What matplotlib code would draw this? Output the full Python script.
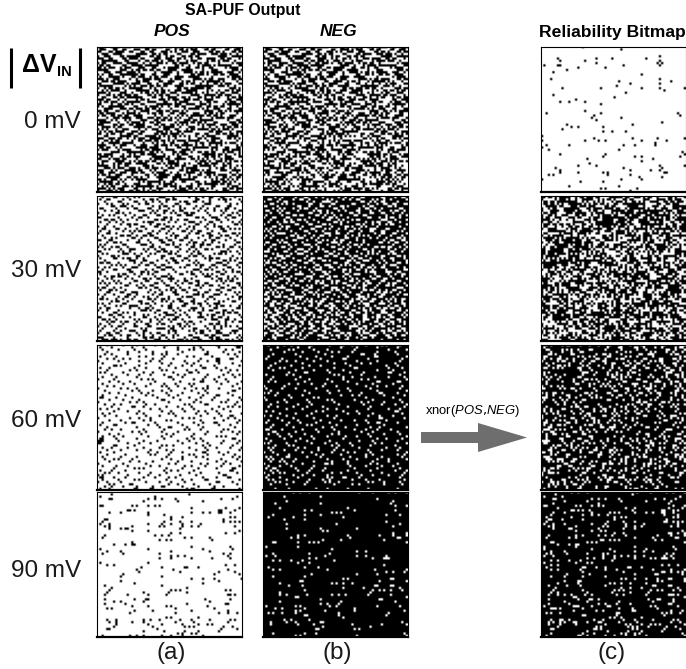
#SA-PUF output bitmaps (64x64 cells per panel), 1 = dark cell
#Sparse panels were read cell by cell from the picture, hex rows are estimated by eye

import numpy as np
import matplotlib
matplotlib.use("Agg")
import matplotlib.pyplot as plt

plt.rcParams['font.family'] = ['Liberation Sans', 'DejaVu Sans']
plt.rcParams['mathtext.fontset'] = 'custom'
plt.rcParams['mathtext.it'] = 'Liberation Sans:italic'

voltages = ["0 mV", "30 mV", "60 mV", "90 mV"]
columnLabels = ["(a)", "(b)", "(c)"]

pos0Rows = ["E3C61F38B4D29E67", "7198E6C32D71B0CE", "C6F3198EA7386D1B", "39E07CD6186F3BA4", "9C37E1B2C6D8079F", "E61BD8739A4CF362", "3F8C26E9D170B5C8", "B1E7C93A6F2D8417",
            "6C19F7E0348BD7E3", "D72E38C5F19A60BC", "F8396DB1E7C2381D", "1CE7A04F93D6BE72", "A63FD8C7106E9B3C", "47D1B96E3CF8205E", "E9C24F70B83D671B", "3B786E19C5A2FD04",
            "C1F5E3278D649AE3", "7E0A9DB63C1FE748", "96D3F1481B7EC03A", "2BC87E6D39F0A4D6", "F43916ACE7D28B1C", "8D6EC35B1079F6E2", "31B7F0C9E68D2C5B", "EC485A1D73B9E067",
            "5B97E3C62F04D8B9", "C26D183FB9E7417E", "A7F0C5E9361CDB24", "1E3B76D082FA9C63", "D8C49E3B7501E6AF", "6F17A2D8CE396B04", "B36CF049157EDA38", "09DE73B6A8C42F71",
            "F28A1C6D93B7E046", "7C45E9B02F6D183B", "E1B3786CD50AF39C", "3D60FB17C8E2496D", "A89C24E7316FB5D0", "56F1D83A9BC06E27", "CB27306EF4198DB5", "183EC7D56A92F07C",
            "E764B9F1208D3C6A", "9AC1376D5EF8B204", "27DF08A4C3167EB9", "F1389C6EB7D24A05", "6CA07DE2193FB8C6", "B85E16F3C7A029DE", "03C7F9A86E4DB172", "DE129BC45703F68A",
            "7A36E0FD18C9B4E3", "C5D8417B3E6A92F0", "38F2B6C9D0174EAD", "A16E7C35F28DB960", "F94C0E82B637D1A5", "1D73A6E9C5F04B28", "E28FB1460D7AC39E", "6739D8BC91E5F024",
            "B4E1065F3A8CD79B", "0FC6D23E78B149A6", "D3A97C186FE02B54", "7E502BF4C6193DA8", "96C8E317A04DFB62", "2B1D7FA6E9C8305C", "F570C9382ED6A1B7", "8EB36AD15F2709C4"]
pos30Rows = ["2184A01C40926308", "4C1209A3601845A2", "1060C4920B324081", "8A1426083181C024", "0339009648120C60", "6084C3110A2490C8", "124038A64C091283", "80D20144A3608114",
             "25088C3019C04262", "C0413206801A3898", "1B24406C93010C41", "44900B8120E46212", "0826C1340218900D", "9102186348A11640", "30C8440C9120832A", "4412B091064C2180",
             "8C8103224098C41A", "20364D80B10262C4", "1281906223084C21", "C60422198C413088", "09A0610C40B22406", "50181C834926C108", "A2C4019030640D32", "14238A4C0891A041",
             "C0520436912803A4", "281C9141A04C1682", "8340620C18B24010", "41964808C3016C25", "10038C22649041A8", "6C40918130280E43", "02A8264C01963184", "9411C0338A044862",
             "2186048C4039A110", "C8031A6021440C96", "405892810C62A301", "1364204E8011C848", "8A090D31C2402654", "2140C60893180AB0", "54A2106424C98106", "080C4983101A6442",
             "B1203460C8840319", "46880112A6304C60", "0C31C2486109820A", "91064098303A1C84", "204C8A2105C26013", "6891034D18209042", "02C4308A4C610518", "A4181640832C9C01",
             "10A3C10986044B22", "4C02268190721806", "88401D3048A26190", "21948046220C0D6C", "06608A13C904B102", "C1120C44308E2641", "3480A129640138C8", "0B2C511082C40493",
             "4410862C19206C80", "9260C3014A8112A4", "2088143CC4309203", "41238C0160A64C1C", "8CC0493120160E28", "1626288C50C1B1C2", "E1040D9242386C05", "3BA6C4711D4C2ED2"]
neg30WhiteRows = ["0482312049180C26", "3104C80A1260A481", "8260123C80194C10", "18A40C4301822663", "C2018864340981A0", "0944B1019026480C", "628102C8486110B2", "11300C4A03218C44",
                  "4086C19120CC0209", "8C300826840312C8", "1049A20C51600E21", "226C1081A404B188", "81030C34206892C1", "0CB041C20D142008", "5120861448A1C302", "A408312083118C14",
                  "13C2081CC4204C61", "480D2264092A1084", "9021C4808C41221A", "02861129304804C6", "616040C3A2081931", "8C12390844D20042", "10C8048312206D89", "2411C8A0640C8122",
                  "E0623119084290C4", "0A09C4064C12A160", "C3B0101982C40C1A", "14C426C0313108C2", "A1018C34068E2441", "6C4832018C601219", "8326019C2A1884E0", "10C8A24640934C12",
                  "4C1209C11A648203", "2A6084341205C398", "9103C2180CE04126", "44481C6592013084", "81B2240C0948C641", "3610C9A2C3260C18", "C8240162984B1162", "0C8B1418068C2341",
                  "A3C04C2391A8401C", "14383082C40D9262", "6A844D1C22103688", "C90C22A118624C13", "2763C0884C3A1840", "E01A9432016CC2A6", "4C882D60D3118924", "9B3144C60A2E1C86",
                  "186E0C9B14864132", "C523A1068C2936C8", "A64C30E2418D0C19", "33890C4CB2648E42", "CE249A12C30C3185", "591662C8290CB4C2", "8C93241A864E2318", "E640C9B3112864CA",
                  "3A1C4C26C8A11942", "C9B2863103CC6C18", "A2462C9C82348146", "1D8C4331C0690D9A", "C6328C14362E2461", "8B8490E2CA11C326", "0C0D2038444C8180", "2420C0830C100812"]
pos60Rows = ["0810404200080C0F", "4201080410240406", "2040840010A20090", "0804208204008102", "1204008A10018048", "4080240401202004", "0912008840040C30", "8040211002088C01",
             "2008040881200410", "01A0200104441002", "4400841020030880", "0802400A01100224", "5010088040C80040", "0204210412008112", "2080400184010408", "8100128040221080",
             "0442004008060841", "2010810420A00204", "0900040A10408010", "8024400102128402", "1001208880410018", "0440120204088040", "2008048110020C10", "6081002040841002",
             "0410200C08102041", "8002480100240284", "1120044002818008", "0201880210400452", "4840011004202100", "0104200882090820", "2400480140108401", "1080041020040230",
             "8002210004A01048", "0420090280040102", "2009804010221804", "4180022004080420", "0800401181020008", "1220080402840140", "8001240810008212", "0440100240210004",
             "2110020880400A80", "6080400401240018", "E040082010820102", "C004210004108204", "0180800A40024010", "2204081000810821", "0820410240108002", "4100022084030440",
             "0808014100A08108", "2020400204120012", "1141000884008204", "0402208010400881", "8010040120048120", "2084011002410202", "0100A80204080818", "4208000490200030",
             "1440210200840404", "A004021008100180", "6108084120020860", "2040A00204418002", "8820041082000C10", "0503000110204004", "1210408C04081100", "4400C18001603002"]
neg60WhiteRows = ["2048040411040A08", "0201080020402010", "1014020800800101", "0040408241002020", "0802001000184010", "2000810204006001", "4080104018020004", "0122020800402008",
                  "0400400108110020", "1008084002000210", "2140400100C00104", "0802020810002040", "0010300402080182", "4024000140100008", "0800800011004102", "1002080810120001",
                  "2400200204003018", "0011041000408040", "8040002080042204", "4082010004010008", "1000200842002001", "A200080400101810", "0410400021200402", "8008028000040040",
                  "4040100A00808008", "0220080100120404", "1001040040080821", "2204102004010002", "0020400880020108", "4800012010400030", "0102040004208004", "9020100880021040",
                  "0204020100001802", "2081004020840200", "4010810400023010", "0820140080400400", "1004002208011001", "6080410100842080", "0C02008040108010", "2210200240020408",
                  "0108040808410001", "4040820010002204", "1002100400208010", "A020041082004801", "0414000241010020", "2801208080200208", "1042008110020810", "8800440204810001",
                  "0210012020048012", "5030104002040804", "2882000810402101", "1144020204008100", "8020401A04012010", "2108020002040840", "4C02041000802008", "1201082004010021",
                  "8940100220400802", "2004420800108104", "4101000A18200008", "2820082401041002", "0504101440028408", "1020200101200404", "0000000000000000", "0410010804020010"]

# cells as (col, row)
rel0Dark = [(18,0),(35,1),(52,4),(7,5),(24,5),(31,5),(46,5),(8,6),(19,6),(52,6),(24,7),(51,7),(53,7),(1,8),(7,8),(8,8),(36,8),(52,8),(16,9),(28,9),(11,10),(5,11),(44,12),
            (4,14),(52,14),(34,15),(57,15),(39,16),(52,16),(33,17),(9,18),(26,18),(44,18),(52,18),(63,18),(54,19),(37,20),(5,21),(32,22),(15,23),(8,24),(12,24),(19,24),(26,25),
            (19,28),(2,29),(26,29),(60,29),(23,30),(61,30),(22,31),(35,31),(24,32),(53,33),(11,34),(40,34),(13,35),(16,35),(27,35),(9,36),(27,37),(31,37),(37,37),(0,39),
            (23,40),(40,40),(51,40),(63,40),(0,41),(19,41),(25,41),(28,41),(44,41),(55,41),(50,42),(2,43),(12,43),(36,43),(41,43),(50,43),(0,44),(3,45),(34,45),(62,46),
            (8,47),(28,47),(63,47),(27,48),(41,48),(44,48),(61,48),(20,49),(49,49),(44,50),(21,51),(16,52),(24,52),(52,52),(63,52),(6,53),(36,53),(53,53),(8,54),(39,54),
            (48,54),(52,54),(8,55),(16,55),(27,55),(29,55),(54,55),(55,55),(3,56),(5,56),(29,56),(39,56),(43,57),(53,57),(0,58),(35,58),(44,58),(17,59),(27,59),(12,61),
            (34,61),(26,62),(28,62),(42,62),(39,63)]
pos90Dark = [(6,1),(40,1),(1,2),(25,2),(61,2),(5,3),(6,3),(22,3),(25,3),(28,3),(34,3),(54,3),(59,3),(20,4),(35,4),(46,4),(1,6),(2,6),(15,6),(17,6),(22,6),(25,6),(27,6),
             (41,7),(56,7),(62,7),(13,8),(14,8),(16,8),(53,8),(54,8),(60,8),(5,9),(10,9),(22,9),(41,9),(46,9),(49,9),(53,9),(54,9),(58,9),(22,10),(29,10),(32,11),(37,11),(58,11),(60,11),
             (3,12),(4,12),(32,12),(55,12),(2,13),(29,13),(36,13),(41,13),(55,13),(58,13),(60,13),(62,13),(1,14),(5,14),(22,14),(28,14),(32,14),(37,14),(45,14),
             (3,15),(5,15),(15,15),(27,15),(29,15),(37,15),(44,15),(41,15),(60,15),(5,16),(10,16),(12,16),(13,16),(36,16),(15,17),(22,17),(62,17),(32,18),(36,18),(56,18),(60,18),
             (3,19),(25,19),(28,19),(31,19),(2,20),(38,20),(41,20),(49,20),(27,21),(30,21),(32,21),(50,21),(15,22),(12,23),(15,23),(16,23),(7,23),(41,24),(58,24),(59,25),(1,25),(22,25),(46,25),
             (4,26),(10,26),(32,26),(49,26),(2,27),(11,27),(27,27),(55,27),(58,27),(32,28),(35,28),(38,28),(57,28),(27,29),(32,29),(41,29),(50,29),(58,29),(1,31),(22,31),
             (4,32),(7,32),(56,32),(60,32),(19,33),(28,33),(38,33),(39,33),(44,33),(17,34),(33,34),(57,34),(18,35),(36,35),(53,35),(60,35),(11,36),(51,36),(62,36),(10,37),(28,37),
             (41,38),(46,38),(51,38),(63,38),(10,39),(53,39),(16,40),(46,40),(3,41),(28,41),(6,42),(39,42),(5,43),(32,43),(34,43),(36,43),(56,43),(58,43),(4,44),(20,44),(31,44),(39,44),
             (3,45),(13,45),(22,45),(30,45),(57,45),(58,45),(60,45),(21,47),(22,47),(3,47),(16,47),(47,47),(58,47),(7,48),(10,48),(20,48),(49,48),(3,49),(12,49),(39,49),(56,49),(57,49),
             (15,50),(22,50),(30,50),(32,50),(48,50),(4,51),(6,51),(34,51),(51,51),(16,52),(24,52),(41,52),(57,52),(14,53),(34,53),(53,53),(57,53),(61,53),(30,55),(32,55),(44,55),
             (4,56),(8,56),(20,56),(23,56),(27,56),(36,56),(41,56),(49,56),(58,56),(60,56),(5,57),(8,57),(15,57),(20,57),(34,57),(42,57),(57,57),(8,58),(22,58),(28,58),(37,58),(44,58),(48,58),(50,58),
             (7,59),(24,59),(38,59),(40,59),(42,59),(55,59),(59,59),(4,60),(5,60),(26,60),(54,60),(61,60),(53,61),(20,61),(29,61),(38,61),(44,61),(35,62),(37,62),(41,62),(43,62),
             (2,63),(14,63),(17,63),(20,63),(28,63),(32,63),(37,63),(46,63)]
neg90White = [(13,0),(16,0),(20,0),(42,0),(48,0),(55,0),(58,0),(63,0),(9,2),(25,2),(50,3),(10,4),(57,4),(5,5),(25,5),(56,5),(58,6),(63,6),(7,7),(37,7),(18,8),(21,8),(40,8),(58,8),
              (30,9),(32,9),(34,9),(4,10),(18,10),(25,10),(54,10),(60,10),(2,11),(13,11),(35,11),(9,12),(18,12),(54,13),(10,14),(32,14),(60,14),(57,15),(10,16),(25,16),(41,16),
              (26,17),(28,17),(57,18),(63,18),(15,19),(18,19),(37,19),(51,19),(57,19),(63,19),(12,20),(15,20),(38,20),(59,20),(60,20),(26,21),(34,21),(53,21),(4,22),(5,22),(15,22),(20,22),(22,22),(24,22),(63,22),
              (1,24),(15,24),(30,25),(41,26),(45,26),(4,27),(20,27),(29,27),(1,28),(5,28),(27,28),(41,28),(45,28),(54,28),(20,29),(23,29),(48,29),(53,29),(54,29),(55,29),
              (4,30),(7,30),(12,30),(17,30),(31,30),(15,31),(20,31),(53,32),(2,33),(18,33),(24,33),(4,34),(7,34),(28,34),(49,34),(63,34),(54,35),(57,35),(62,35),(21,36),(41,36),(50,36),
              (4,37),(18,37),(35,38),(37,38),(56,38),(57,38),(16,39),(17,39),(51,39),(63,39),(7,40),(30,40),(32,40),(35,40),(39,40),(11,41),(17,41),(49,41),(50,41),(56,41),(57,41),
              (35,42),(44,42),(60,42),(18,43),(48,43),(51,43),(53,43),(56,43),(61,43),(7,44),(47,44),(7,45),(10,45),(19,45),(30,45),(33,45),(36,45),(46,45),(56,45),(14,46),(15,46),(63,46),
              (25,47),(51,47),(52,47),(7,48),(34,48),(58,48),(25,49),(28,49),(33,49),(1,50),(14,50),(16,50),(29,50),(32,50),(50,50),(60,50),(5,51),(8,51),(18,51),(40,51),
              (14,52),(16,52),(27,52),(40,52),(62,52),(2,53),(4,53),(8,53),(14,53),(33,53),(55,53),(18,54),(19,54),(33,54),(54,54),(35,55),(9,56),(12,56),(20,56),
              (3,57),(10,57),(14,57),(25,57),(26,57),(61,57),(3,58),(15,58),(22,58),(39,58),(52,58),(63,58),(26,59),(47,59),(23,60),(24,60),(40,60),(42,60),(4,62),(18,62),(23,62),(62,62),
              (14,63),(16,63),(41,63),(63,63)]

def hexToBits(rows):
    return np.array([[int(c) for c in format(int(r, 16), "064b")] for r in rows])

def cellsToBits(cells):
    bits = np.zeros((64, 64), dtype=int)
    for col, row in cells:
        bits[row, col] = 1
    return bits

pos = [hexToBits(pos0Rows), hexToBits(pos30Rows), hexToBits(pos60Rows), cellsToBits(pos90Dark)]
neg = [pos[0] ^ cellsToBits(rel0Dark), 1 - hexToBits(neg30WhiteRows), 1 - hexToBits(neg60WhiteRows), 1 - cellsToBits(neg90White)]

W, H = 686, 669
fig = plt.figure(figsize=(W / 100, H / 100), dpi=100)

def panelAxes(left, top, width, height):
    return fig.add_axes([left / W, 1 - (top + height) / H, width / W, height / H])

tops = [47, 196, 345, 492]
lefts = [97, 263, 541]
for i, top in enumerate(tops):
    for left, bits in zip(lefts, [pos[i], neg[i], pos[i] ^ neg[i]]):
        ax = panelAxes(left, top, 145, 145)
        ax.imshow(bits, cmap="gray_r", vmin=0, vmax=1, interpolation="antialiased", aspect="auto")
        ax.set_xticks([])
        ax.set_yticks([])
        for s in ax.spines.values():
            s.set_linewidth(0.8)
        ax.spines["bottom"].set_linewidth(1.6)

# capa de anotaciones en pixeles
over = fig.add_axes([0, 0, 1, 1], zorder=5)
over.set_xlim(0, W)
over.set_ylim(H, 0)
over.axis("off")

over.text(243, 11, "SA-PUF Output", fontsize=11.4, fontweight="bold", ha="center", va="center")
over.text(172, 32, "POS", fontsize=12.5, fontweight="bold", style="italic", ha="center", va="center")
over.text(338, 32, "NEG", fontsize=12.5, fontweight="bold", style="italic", ha="center", va="center")
over.text(612, 32, "Reliability Bitmap", fontsize=12.6, fontweight="bold", ha="center", va="center")

over.plot([11, 11], [48, 88], color="black", lw=2.2, solid_capstyle="butt")
over.plot([80, 80], [48, 88], color="black", lw=2.2, solid_capstyle="butt")
over.text(22, 65, "ΔV", fontsize=18, fontweight="bold", ha="left", va="center")
over.text(57, 72, "IN", fontsize=10.5, fontweight="bold", ha="left", va="center")

for label, y in zip(voltages, [122, 271, 421, 571]):
    over.text(81, y, label, fontsize=17.5, color="#1a1a1a", ha="right", va="center")
for label, x in zip(columnLabels, [171, 337, 612]):
    over.text(x, 653, label, fontsize=17.5, color="#1a1a1a", ha="center", va="center")

over.text(472, 411, r"xnor($\mathit{POS{,}NEG}$)", fontsize=9.4, ha="center", va="center")
over.arrow(421, 437.5, 106, 0, width=11, head_width=29, head_length=49, length_includes_head=True, color="#6e6e6e", lw=0)

fig.savefig("out.png", dpi=100)
